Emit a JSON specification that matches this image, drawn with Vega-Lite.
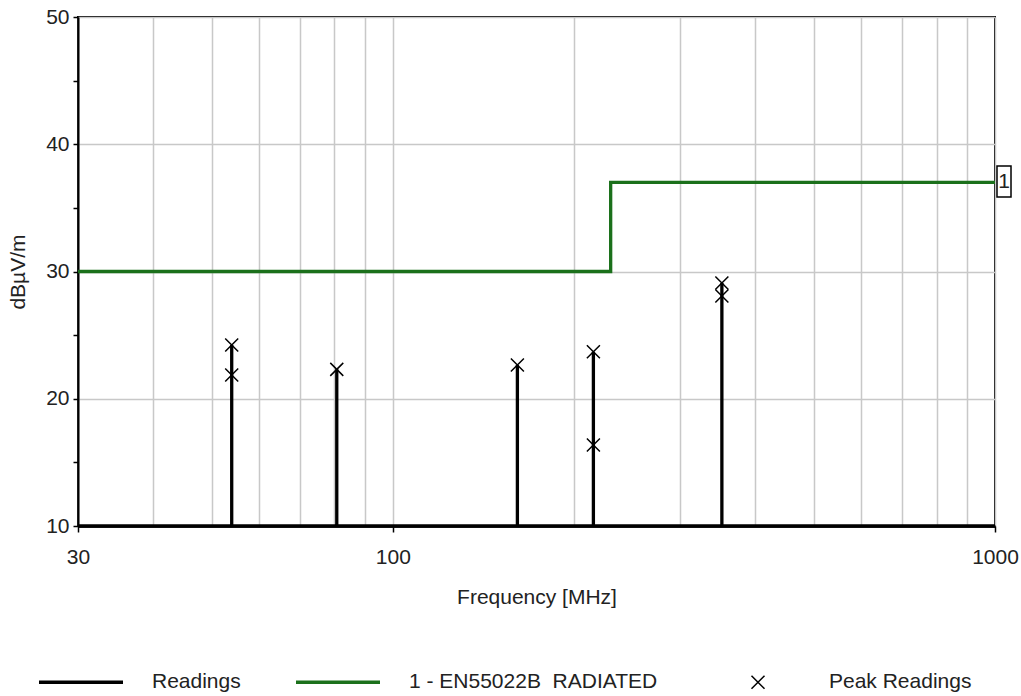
{
  "$schema": "https://vega.github.io/schema/vega-lite/v6.json",
  "width": 917,
  "height": 509,
  "autosize": "none",
  "padding": {"left": 78, "top": 17, "right": 26, "bottom": 170},
  "background": "white",
  "config": {
    "font": "Liberation Sans",
    "view": {"stroke": "#000", "strokeWidth": 2},
    "axis": {
      "labelFont": "Liberation Sans",
      "titleFont": "Liberation Sans",
      "labelColor": "#222",
      "titleColor": "#222",
      "labelFontSize": 21,
      "titleFontSize": 21,
      "titleFontWeight": "normal",
      "gridColor": "#c8c8c8",
      "gridWidth": 1.5,
      "domainColor": "#000",
      "tickColor": "#000"
    },
    "legend": {
      "labelFont": "Liberation Sans",
      "labelFontSize": 21,
      "labelColor": "#222",
      "labelLimit": 400
    }
  },
  "data": {
    "values": [
      {"kind": "r", "series": "Readings", "o": 1, "f": 30, "v": 10},
      {"kind": "r", "series": "Readings", "o": 2, "f": 54, "v": 10},
      {"kind": "r", "series": "Readings", "o": 3, "f": 54, "v": 24.22},
      {"kind": "r", "series": "Readings", "o": 4, "f": 54, "v": 10},
      {"kind": "r", "series": "Readings", "o": 5, "f": 80.7, "v": 10},
      {"kind": "r", "series": "Readings", "o": 6, "f": 80.7, "v": 22.31},
      {"kind": "r", "series": "Readings", "o": 7, "f": 80.7, "v": 10},
      {"kind": "r", "series": "Readings", "o": 8, "f": 161, "v": 10},
      {"kind": "r", "series": "Readings", "o": 9, "f": 161, "v": 22.65},
      {"kind": "r", "series": "Readings", "o": 10, "f": 161, "v": 10},
      {"kind": "r", "series": "Readings", "o": 11, "f": 215.3, "v": 10},
      {"kind": "r", "series": "Readings", "o": 12, "f": 215.3, "v": 23.7},
      {"kind": "r", "series": "Readings", "o": 13, "f": 215.3, "v": 10},
      {"kind": "r", "series": "Readings", "o": 14, "f": 351.9, "v": 10},
      {"kind": "r", "series": "Readings", "o": 15, "f": 351.9, "v": 29.1},
      {"kind": "r", "series": "Readings", "o": 16, "f": 351.9, "v": 10},
      {"kind": "r", "series": "Readings", "o": 17, "f": 1000, "v": 10},
      {"kind": "l", "series": "1 - EN55022B \u00a0RADIATED", "o": 1, "f": 30, "v": 30},
      {"kind": "l", "series": "1 - EN55022B \u00a0RADIATED", "o": 2, "f": 230, "v": 30},
      {"kind": "l", "series": "1 - EN55022B \u00a0RADIATED", "o": 3, "f": 230, "v": 37},
      {"kind": "l", "series": "1 - EN55022B \u00a0RADIATED", "o": 4, "f": 1000, "v": 37},
      {"kind": "p", "series": "Peak Readings", "o": 1, "f": 54, "v": 24.22},
      {"kind": "p", "series": "Peak Readings", "o": 2, "f": 54, "v": 21.87},
      {"kind": "p", "series": "Peak Readings", "o": 3, "f": 80.7, "v": 22.31},
      {"kind": "p", "series": "Peak Readings", "o": 4, "f": 161, "v": 22.65},
      {"kind": "p", "series": "Peak Readings", "o": 5, "f": 215.3, "v": 23.7},
      {"kind": "p", "series": "Peak Readings", "o": 6, "f": 215.3, "v": 16.37},
      {"kind": "p", "series": "Peak Readings", "o": 7, "f": 351.9, "v": 29.1},
      {"kind": "p", "series": "Peak Readings", "o": 8, "f": 351.9, "v": 28.07},
      {"kind": "b", "series": "label", "o": 1, "f": 1000, "v": 37, "t": "1"}
    ]
  },
  "encoding": {
    "x": {
      "field": "f",
      "type": "quantitative",
      "scale": {"type": "log", "domain": [30, 1000], "nice": false},
      "axis": {
        "title": "Frequency [MHz]",
        "values": [30, 40, 50, 60, 70, 80, 90, 100, 200, 300, 400, 500, 600, 700, 800, 900, 1000],
        "format": "d",
        "labelExpr": "indexof([30, 100, 1000], datum.value) >= 0 ? datum.label : ''",
        "labelOverlap": false,
        "labelFlush": false,
        "labelPadding": 14,
        "tickSize": 6,
        "tickWidth": 1.5,
        "tickOpacity": {"condition": {"test": "datum.value === 30 || datum.value === 100 || datum.value === 1000", "value": 1}, "value": 0},
        "domainWidth": 2.5,
        "titlePadding": 19,
        "grid": true
      }
    },
    "y": {
      "field": "v",
      "type": "quantitative",
      "scale": {"domain": [10, 50], "nice": false, "zero": false},
      "axis": {
        "title": "dBµV/m",
        "values": [10, 15, 20, 25, 30, 35, 40, 45, 50],
        "labelExpr": "datum.value % 10 === 0 ? datum.label : ''",
        "labelOverlap": false,
        "labelFlush": false,
        "labelPadding": 4,
        "tickSize": 5,
        "tickWidth": 1.5,
        "domainWidth": 2,
        "titlePadding": 17,
        "grid": true,
        "gridOpacity": {"condition": {"test": "datum.value % 10 === 0", "value": 1}, "value": 0}
      }
    }
  },
  "layer": [
    {
      "transform": [{"filter": "datum.kind === 'r'"}],
      "mark": {"type": "line", "strokeWidth": 3.3, "strokeJoin": "bevel", "strokeCap": "butt"},
      "encoding": {
        "order": {"field": "o", "type": "quantitative"},
        "color": {
          "field": "series",
          "type": "nominal",
          "scale": {"domain": ["Readings", "1 - EN55022B \u00a0RADIATED", "Peak Readings"], "range": ["#000000", "#1b701b", "#000000"]},
          "legend": {
            "title": null,
            "orient": "none",
            "legendX": -7.5,
            "legendY": 654.5,
            "direction": "horizontal",
            "padding": 0,
            "symbolSize": 7056,
            "symbolStrokeWidth": 3.3,
            "labelOffset": 60.5,
            "columnPadding": 47,
            "encode": {"symbols": {"update": {"size": {"value": 7056}, "strokeWidth": {"signal": "datum.label === 'Peak Readings' ? 1.5 : 3.3"}}}}
          }
        }
      }
    },
    {
      "transform": [{"filter": "datum.kind === 'l'"}],
      "mark": {"type": "line", "strokeWidth": 3.3, "strokeJoin": "miter", "strokeCap": "butt"},
      "encoding": {
        "order": {"field": "o", "type": "quantitative"},
        "color": {"field": "series", "type": "nominal"}
      }
    },
    {
      "transform": [{"filter": "datum.kind === 'p'"}],
      "mark": {"type": "point", "filled": false, "size": 7056, "strokeWidth": 1.5, "opacity": 1},
      "encoding": {
        "color": {"field": "series", "type": "nominal"},
        "shape": {
          "field": "series",
          "type": "nominal",
          "scale": {"domain": ["Readings", "1 - EN55022B \u00a0RADIATED", "Peak Readings"], "range": ["stroke", "stroke", "M-1.19,0M-0.155,-0.155L0.155,0.155M0.155,-0.155L-0.155,0.155"]},
          "legend": {
            "title": null,
            "orient": "none",
            "legendX": -7.5,
            "legendY": 654.5,
            "direction": "horizontal",
            "padding": 0,
            "symbolSize": 7056,
            "labelOffset": 60.5,
            "columnPadding": 47
          }
        }
      }
    },
    {
      "transform": [{"filter": "datum.kind === 'b'"}],
      "mark": {"type": "point", "shape": "M-0.452,-1H0.452V1H-0.452Z", "size": 961, "filled": false, "stroke": "#000", "strokeWidth": 1.5, "opacity": 1, "xOffset": 9, "yOffset": -1}
    },
    {
      "transform": [{"filter": "datum.kind === 'b'"}],
      "mark": {"type": "text", "fontSize": 21, "font": "Liberation Sans", "color": "#222", "align": "center", "baseline": "middle", "xOffset": 9, "yOffset": 0},
      "encoding": {"text": {"field": "t"}}
    }
  ]
}
